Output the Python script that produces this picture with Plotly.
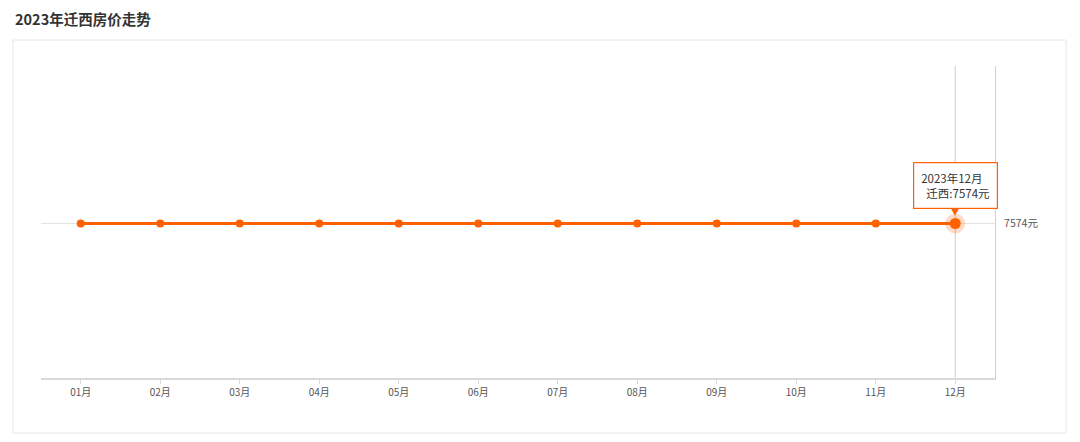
import plotly.graph_objects as go

months = ["01月", "02月", "03月", "04月", "05月", "06月", "07月", "08月", "09月", "10月", "11月", "12月"]
prices = [7574, 7574, 7574, 7574, 7574, 7574, 7574, 7574, 7574, 7574, 7574, 7574]
city = "迁西"
year = "2023"
title = "2023年迁西房价走势"

ORANGE = "#ff6000"
FONT = "Noto Sans CJK SC"

# page has 8px body margin; work in figure coordinates
W, H = 1072, 434
L, R, T, B = 33, 85, 58, 64
PW, PH = W - L - R, H - T - B

fig = go.Figure()
fig.add_trace(go.Scatter(
    x=months, y=prices, mode="lines+markers",
    line=dict(color=ORANGE, width=3),
    marker=dict(color=ORANGE, size=8),
    hoverinfo="skip", showlegend=False,
))
fig.add_trace(go.Scatter(
    x=[months[-1]], y=[prices[-1]], mode="markers",
    marker=dict(color="rgba(255,96,0,0.22)", size=20),
    hoverinfo="skip", showlegend=False,
))
fig.add_trace(go.Scatter(
    x=[months[-1]], y=[prices[-1]], mode="markers",
    marker=dict(color=ORANGE, size=11),
    hoverinfo="skip", showlegend=False,
))

d = 5000
c = prices[0] + 2 * d / PH * 1.5
fig.update_layout(
    width=W, height=H,
    margin=dict(l=L, r=R, t=T, b=B),
    paper_bgcolor="white", plot_bgcolor="white",
    font=dict(family=FONT, color="#555", size=10),
    xaxis=dict(
        type="category", range=[-0.5, 11.5],
        showgrid=False, showline=True, linecolor="#d9d9d9", linewidth=2,
        ticks="outside", tickcolor="#d9d9d9", ticklen=4,
        tickfont=dict(size=10, color="#555"),
        fixedrange=True,
    ),
    yaxis=dict(
        side="right", range=[c - d, c + d],
        tickvals=[prices[-1]], ticktext=[f"{prices[-1]}元"],
        showgrid=True, gridcolor="#e3e3e3", gridwidth=1,
        showline=True, linecolor="#d0d0d0", linewidth=1,
        zeroline=False, ticks="", ticklabelstandoff=6,
        tickfont=dict(size=10.5, color="#555"),
    ),
    annotations=[
        dict(text=f"<b>{title}</b>", xref="paper", yref="paper",
             x=(5 - L) / PW, y=(T + PH - 10) / PH, xanchor="left", yanchor="middle",
             showarrow=False, font=dict(size=14.5, color="#333", family=FONT)),
        dict(text=f"{year}年{months[-1]}<br>&nbsp;&nbsp;{city}:{prices[-1]}元",
             x=months[-1], y=prices[-1], xref="x", yref="y",
             showarrow=False, yshift=38, xanchor="center", yanchor="middle",
             align="left",
             bgcolor="white", bordercolor=ORANGE, borderwidth=1.2, borderpad=7,
             font=dict(size=11.5, color="#333", family=FONT)),
        dict(text="▼", x=months[-1], y=prices[-1], xref="x", yref="y",
             showarrow=False, yshift=12, font=dict(size=8, color=ORANGE)),
    ],
    shapes=[
        dict(type="rect", xref="paper", yref="paper",
             x0=(5 - L) / PW, x1=(1058 - L) / PW,
             y0=(T + PH - 425) / PH, y1=(T + PH - 32) / PH,
             line=dict(color="#e6e6e6", width=1), layer="below"),
        dict(type="line", xref="x", yref="paper", x0=months[-1], x1=months[-1],
             y0=0, y1=1, line=dict(color="#cfcfcf", width=1), layer="below"),
    ],
)

fig.write_html("out.html")
